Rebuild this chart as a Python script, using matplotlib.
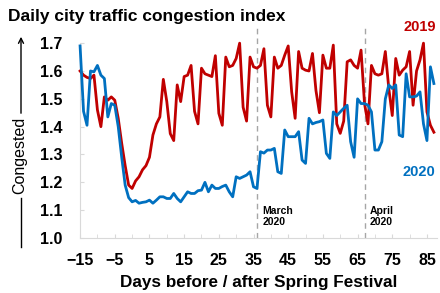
import numpy as np
import matplotlib
matplotlib.use("Agg")
from matplotlib import pyplot as plt
from matplotlib.ticker import FixedLocator

plt.rcParams['font.family'] = ['Liberation Sans', 'DejaVu Sans']

# days relative to Spring Festival
days = np.arange(-15, 88)

# congestion index 2019
cong_2019 = [
    1.60, 1.585, 1.577, 1.573, 1.585, 1.46, 1.40, 1.507, 1.495, 1.507,   # -15..-6
    1.495, 1.43, 1.34, 1.26, 1.19, 1.178, 1.205, 1.22, 1.245, 1.26,       # -5..4
    1.29, 1.37, 1.41, 1.435, 1.57, 1.49, 1.375, 1.35, 1.55, 1.49,         # 5..14
    1.58, 1.585, 1.62, 1.455, 1.41, 1.61, 1.59, 1.585, 1.58, 1.655,       # 15..24
    1.448, 1.405, 1.65, 1.615, 1.62, 1.645, 1.70, 1.47, 1.42, 1.65,       # 25..34
    1.615, 1.61, 1.62, 1.68, 1.477, 1.435, 1.65, 1.61, 1.62, 1.657,       # 35..44
    1.69, 1.525, 1.43, 1.67, 1.61, 1.603, 1.60, 1.663, 1.53, 1.45,        # 45..54
    1.657, 1.61, 1.61, 1.693, 1.41, 1.376, 1.42, 1.633, 1.64, 1.62,       # 55..64
    1.61, 1.675, 1.483, 1.41, 1.62, 1.59, 1.585, 1.59, 1.67, 1.537,       # 65..74
    1.44, 1.645, 1.585, 1.603, 1.615, 1.67, 1.477, 1.60, 1.64, 1.70,      # 75..84
    1.453, 1.405, 1.38,                                                    # 85..87
]

# congestion index 2020
cong_2020 = [
    1.69, 1.455, 1.405, 1.60, 1.597, 1.62, 1.585, 1.573, 1.435, 1.483,    # -15..-6
    1.477, 1.40, 1.29, 1.19, 1.145, 1.13, 1.135, 1.125, 1.128, 1.13,      # -5..4
    1.136, 1.125, 1.136, 1.148, 1.148, 1.142, 1.142, 1.16, 1.142, 1.13,   # 5..14
    1.148, 1.166, 1.16, 1.16, 1.17, 1.172, 1.20, 1.166, 1.19, 1.178,      # 15..24
    1.178, 1.185, 1.19, 1.166, 1.148, 1.22, 1.214, 1.22, 1.226, 1.238,    # 25..34
    1.184, 1.178, 1.31, 1.305, 1.316, 1.316, 1.322, 1.238, 1.232, 1.388,  # 35..44
    1.364, 1.364, 1.364, 1.382, 1.28, 1.268, 1.43, 1.41, 1.415, 1.418,    # 45..54
    1.424, 1.304, 1.286, 1.453, 1.44, 1.453, 1.466, 1.477, 1.346, 1.29,   # 55..64
    1.50, 1.483, 1.483, 1.477, 1.453, 1.316, 1.316, 1.346, 1.50, 1.55,    # 65..74
    1.537, 1.55, 1.37, 1.364, 1.59, 1.507, 1.507, 1.51, 1.525, 1.41,      # 75..84
    1.35, 1.615, 1.555,                                                    # 85..87
]

month_days = [36, 67]
month_labels = ["March\n2020", "April\n2020"]
x_ticks = np.arange(-15, 86, 10)

RED = "#C00000"
BLUE = "#0070C0"
GREY = "#D9D9D9"

fig = plt.figure(figsize=(4.4, 2.93), dpi=100)
ax = fig.add_axes([0.182, 0.1877, 0.812, 0.722])

ax.plot(days, cong_2019, color=RED, lw=2, clip_on=False, zorder=3)
ax.plot(days, cong_2020, color=BLUE, lw=2, clip_on=False, zorder=4)

for d, lab in zip(month_days, month_labels):
    ax.axvline(d, color="#A6A6A6", lw=1, ls=(0, (4, 3)), zorder=1)
    ax.text(d + 1.6, 1.04, lab, fontsize=7.5, fontweight="bold", va="bottom", ha="left",
            linespacing=1.05)

ax.set_xlim(-15, 88)
ax.set_ylim(1.0, 1.76)
ax.spines["left"].set_bounds(1.0, 1.7)
for s in ["top", "right"]:
    ax.spines[s].set_visible(False)
for s in ["left", "bottom"]:
    ax.spines[s].set_color(GREY)

ax.set_yticks(np.arange(1.0, 1.71, 0.1))
ax.set_yticklabels([f"{v:.1f}" for v in np.arange(1.0, 1.71, 0.1)])
ax.set_xticks(x_ticks)
ax.xaxis.set_minor_locator(FixedLocator(np.arange(-10, 88, 10)))
ax.tick_params(axis="both", which="both", direction="in", length=3, color=GREY,
               labelsize=11.5)
ax.tick_params(axis="y", pad=13)
ax.tick_params(axis="x", pad=11)
for lab in ax.get_xticklabels() + ax.get_yticklabels():
    lab.set_fontweight("bold")

ax.set_xlabel("Days before / after Spring Festival", fontsize=12.3, fontweight="bold",
              labelpad=5)

ax.text(87.5, 1.757, "2019", color=RED, fontsize=10.5, fontweight="bold", ha="right", va="center")
ax.text(87.5, 1.237, "2020", color=BLUE, fontsize=10.5, fontweight="bold", ha="right", va="center")

fig.text(0.018, 0.942, "Daily city traffic congestion index", fontsize=12.5,
         fontweight="bold", ha="left", va="center")

# y-axis label with arrow
fig.text(20 / 440, 1 - 155 / 293, "Congested", rotation=90, fontsize=11.5,
         ha="center", va="center")
fig.add_artist(plt.Line2D([21 / 440, 21 / 440], [1 - 198 / 293, 1 - 247 / 293],
                          color="black", lw=1))
fig.patches.append(matplotlib.patches.FancyArrowPatch(
    (21 / 440, 1 - 116 / 293), (21 / 440, 1 - 34 / 293), transform=fig.transFigure,
    arrowstyle="->", mutation_scale=9, lw=1, color="black"))

fig.savefig("out.png", dpi=100)
